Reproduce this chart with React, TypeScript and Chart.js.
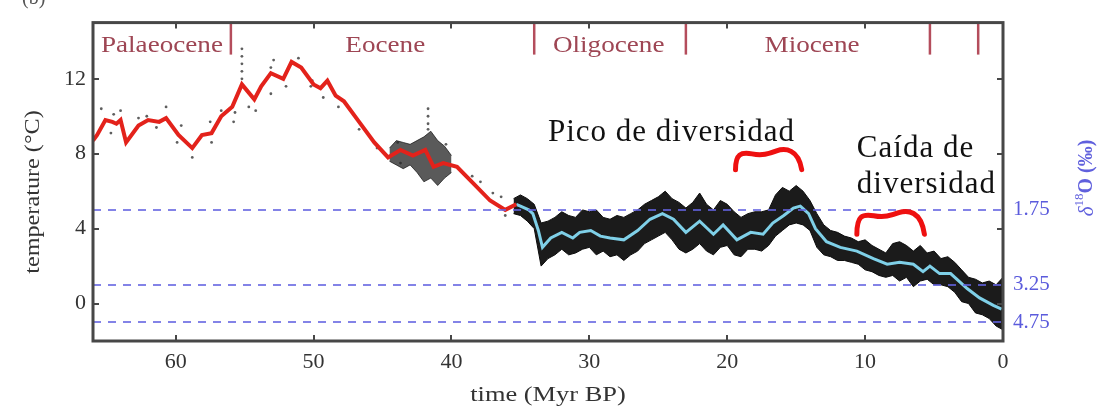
import React, { useEffect, useRef } from 'react';
import { Chart, registerables } from 'chart.js';
Chart.register(...registerables);

// ---------- data ----------
const redTime = [66.0, 65.7, 65.1, 64.6, 64.3, 64.0, 63.6, 62.7, 62.0, 61.2, 60.7, 59.8, 58.8, 58.1, 57.4, 56.7, 55.9, 55.2, 54.3, 53.8, 53.1, 52.2, 51.6, 50.9, 50.0, 49.5, 49.0, 48.4, 47.8, 46.7, 45.6, 44.6, 43.7, 42.8, 41.9, 41.3, 40.6, 39.6, 38.4, 37.2, 36.1, 35.3];
const redTemp = [8.7, 9.0, 9.8, 9.7, 9.6, 9.8, 8.6, 9.5, 9.8, 9.7, 9.9, 9.0, 8.3, 9.0, 9.1, 10.0, 10.5, 11.7, 10.9, 11.6, 12.3, 12.0, 12.9, 12.6, 11.7, 11.5, 11.9, 11.1, 10.8, 9.7, 8.6, 7.8, 8.2, 7.9, 8.2, 7.3, 7.5, 7.3, 6.4, 5.5, 5.0, 5.3];

const cyanTime = [35.3, 35.0, 34.4, 34.1, 33.7, 33.4, 32.8, 32.0, 31.2, 30.7, 29.9, 29.2, 28.5, 27.5, 26.5, 25.6, 24.7, 23.9, 23.0, 22.0, 21.0, 20.3, 19.3, 18.3, 17.4, 16.7, 15.9, 15.2, 14.7, 14.1, 13.6, 12.8, 11.8, 10.6, 9.4, 8.4, 7.5, 6.5, 5.8, 5.3, 4.6, 3.8, 2.6, 1.7, 0.7, 0.1];
const cyanTemp = [5.3, 5.2, 5.0, 4.8, 3.9, 3.0, 3.5, 3.8, 3.5, 3.8, 3.9, 3.6, 3.5, 3.4, 3.9, 4.5, 4.8, 4.5, 3.8, 4.4, 3.7, 4.2, 3.4, 3.8, 3.7, 4.3, 4.7, 5.1, 5.2, 4.8, 4.0, 3.3, 3.0, 2.8, 2.4, 2.1, 2.2, 2.1, 1.7, 2.0, 1.6, 1.6, 0.8, 0.3, -0.1, -0.3];

// dense scatter envelope, Oligocene to present
const bandTime = [35.5, 35.0, 34.5, 34.0, 33.5, 33.0, 32.5, 32.0, 31.5, 31.0, 30.5, 30.0, 29.5, 29.0, 28.5, 28.0, 27.5, 27.0, 26.5, 26.0, 25.5, 25.0, 24.5, 24.0, 23.5, 23.0, 22.5, 22.0, 21.5, 21.0, 20.5, 20.0, 19.5, 19.0, 18.5, 18.0, 17.5, 17.0, 16.5, 16.0, 15.5, 15.0, 14.5, 14.0, 13.5, 13.0, 12.5, 12.0, 11.5, 11.0, 10.5, 10.0, 9.5, 9.0, 8.5, 8.0, 7.5, 7.0, 6.5, 6.0, 5.5, 5.0, 4.5, 4.0, 3.5, 3.0, 2.5, 2.0, 1.5, 1.0, 0.5, 0.0];
const bandHigh = [5.6, 5.8, 5.6, 5.3, 4.3, 4.4, 4.6, 4.9, 4.7, 4.6, 5.0, 4.9, 5.0, 4.6, 4.5, 4.7, 4.6, 4.8, 5.0, 5.3, 5.5, 5.7, 6.0, 5.6, 5.4, 5.1, 5.4, 5.9, 5.3, 5.0, 5.5, 5.3, 4.9, 4.6, 4.8, 4.9, 4.9, 5.0, 5.8, 6.2, 6.0, 6.3, 6.0, 5.5, 4.8, 4.2, 3.9, 3.8, 3.6, 3.5, 3.3, 3.4, 3.1, 2.9, 2.7, 3.2, 3.3, 3.1, 2.8, 3.1, 2.7, 2.8, 2.4, 2.5, 2.2, 1.8, 1.4, 1.3, 1.1, 1.2, 1.0, 1.4];
const bandLow = [4.8, 4.7, 4.4, 4.0, 2.0, 2.4, 2.6, 2.9, 2.6, 2.7, 2.9, 3.0, 2.6, 2.8, 2.5, 2.6, 2.3, 2.6, 2.8, 3.2, 3.4, 3.6, 3.8, 3.4, 2.9, 2.7, 2.9, 3.2, 2.8, 2.6, 3.0, 3.1, 2.6, 2.5, 2.9, 2.9, 2.8, 3.1, 3.6, 3.9, 4.2, 4.3, 4.2, 3.9, 3.0, 2.6, 2.5, 2.3, 2.3, 2.2, 2.1, 1.8, 1.7, 1.5, 1.4, 1.5, 1.2, 1.4, 0.9, 1.2, 1.3, 1.0, 1.0, 0.9, 0.6, 0.1, 0.0, -0.5, -0.6, -0.8, -1.2, -1.4];

// dense scatter envelope, middle Eocene
const band2Time = [44.5, 44.0, 43.5, 43.0, 42.5, 42.0, 41.5, 41.0, 40.5, 40.0];
const band2High = [8.3, 8.7, 8.6, 8.5, 8.7, 8.9, 9.2, 8.7, 8.4, 7.9];
const band2Low = [7.6, 7.4, 7.2, 7.4, 7.0, 6.5, 6.7, 6.3, 6.7, 7.0];

// sparse raw points around the red curve
const dotTime = [65.4, 64.5, 64.0, 64.7, 62.7, 62.1, 60.7, 61.4, 59.6, 59.9, 58.8, 58.3, 57.5, 57.4, 56.7, 55.8, 55.7, 55.2, 55.2, 55.2, 55.2, 55.2, 54.7, 54.2, 53.1, 52.9, 53.1, 52.0, 51.1, 50.1, 50.2, 49.3, 48.2, 46.7, 45.4, 43.9, 43.7, 41.7, 41.7, 41.7, 41.7, 40.4, 38.5, 37.9, 36.4, 36.1, 39.2, 37.0];
const dotTemp = [10.4, 10.1, 10.3, 9.1, 9.9, 10.0, 10.5, 9.4, 9.5, 8.6, 7.8, 8.8, 9.7, 8.6, 10.3, 9.7, 10.2, 13.6, 13.2, 12.8, 12.4, 12.0, 10.5, 10.3, 12.6, 13.0, 11.2, 11.6, 13.1, 11.9, 11.6, 11.0, 10.5, 9.3, 8.3, 8.6, 7.5, 10.4, 10.0, 9.6, 9.3, 8.5, 6.8, 6.5, 5.7, 4.7, 7.0, 5.9];

const xTicks = [0, 10, 20, 30, 40, 50, 60];
const yTicks = [0, 4, 8, 12];
const d18OLevels = [5, 1, -1];
const d18OLabels = ['1.75', '3.25', '4.75'];

const epochNames = ['Palaeocene', 'Eocene', 'Oligocene', 'Miocene'];
const epochCenters = [61.0, 44.8, 28.6, 13.85];
const epochBounds = [56, 34, 23, 5.3, 1.8];

const noteLines = ['Pico de diversidad', 'Caída de', 'diversidad'];
const noteTime = [33.0, 10.6, 10.6];
const noteTemp = [8.7, 7.85, 5.9];

const braceStart = [19.4, 10.6];
const braceEnd = [14.6, 5.7];
const braceTop = [8.15, 4.85];
const braceFoot = [7.15, 3.7];

// ---------- drawing helpers ----------
const SERIF = "'Liberation Serif', 'Times New Roman', serif";

function stretchText(ctx: CanvasRenderingContext2D, text: string, x: number, y: number, align: CanvasTextAlign, sx: number) {
  ctx.save();
  ctx.translate(x, y);
  ctx.scale(sx, 1);
  ctx.textAlign = align;
  ctx.fillText(text, 0, 0);
  ctx.restore();
}

const decor = {
  id: 'decor',
  afterDatasetsDraw(chart: any) {
    const { ctx, chartArea: a, scales } = chart;
    const xs = scales.x, ys = scales.y;
    ctx.save();

    // reference dashed levels
    ctx.strokeStyle = 'rgba(100,100,225,0.8)';
    ctx.lineWidth = 2;
    ctx.setLineDash([8, 7]);
    d18OLevels.forEach((v) => {
      const y = Math.round(ys.getPixelForValue(v));
      ctx.beginPath();
      ctx.moveTo(a.left, y);
      ctx.lineTo(a.right, y);
      ctx.stroke();
    });
    ctx.setLineDash([]);

    // epoch boundary marks
    ctx.strokeStyle = '#b44d5c';
    ctx.lineWidth = 2.5;
    epochBounds.forEach((t) => {
      const x = xs.getPixelForValue(t);
      ctx.beginPath();
      ctx.moveTo(x, a.top);
      ctx.lineTo(x, a.top + 32);
      ctx.stroke();
    });
    ctx.fillStyle = '#9e4654';
    ctx.font = `23px ${SERIF}`;
    ctx.textBaseline = 'middle';
    epochNames.forEach((n, i) => {
      stretchText(ctx, n, xs.getPixelForValue(epochCenters[i]), a.top + 23, 'center', 1.18);
    });

    // frame
    ctx.strokeStyle = '#474747';
    ctx.lineWidth = 3;
    ctx.strokeRect(a.left, a.top, a.right - a.left, a.bottom - a.top);
    ctx.lineWidth = 2;
    xTicks.forEach((t) => {
      const x = Math.round(xs.getPixelForValue(t));
      ctx.beginPath();
      ctx.moveTo(x, a.bottom); ctx.lineTo(x, a.bottom - 6);
      ctx.moveTo(x, a.top); ctx.lineTo(x, a.top + 6);
      ctx.stroke();
    });
    yTicks.forEach((v) => {
      const y = Math.round(ys.getPixelForValue(v));
      ctx.beginPath();
      ctx.moveTo(a.left, y); ctx.lineTo(a.left + 6, y);
      ctx.moveTo(a.right, y); ctx.lineTo(a.right - 6, y);
      ctx.stroke();
    });

    // axis titles
    ctx.fillStyle = '#333';
    ctx.font = `22px ${SERIF}`;
    ctx.textBaseline = 'middle';
    stretchText(ctx, 'time (Myr BP)', (a.left + a.right) / 2, 395, 'center', 1.2);
    ctx.save();
    ctx.translate(33, 192);
    ctx.rotate(-Math.PI / 2);
    stretchText(ctx, 'temperature (°C)', 0, 0, 'center', 1.1);
    ctx.restore();

    // right title δ18O (‰)
    ctx.save();
    ctx.translate(1087, 178);
    ctx.rotate(-Math.PI / 2);
    ctx.fillStyle = '#6060dd';
    ctx.textBaseline = 'middle';
    ctx.textAlign = 'left';
    ctx.font = `italic 21px ${SERIF}`;
    const w1 = ctx.measureText('δ').width;
    ctx.font = `13px ${SERIF}`;
    const w2 = ctx.measureText('18').width;
    ctx.font = `bold 20px ${SERIF}`;
    const w3 = ctx.measureText('O (‰)').width;
    const x0 = -(w1 + w2 + w3) / 2;
    ctx.font = `italic 21px ${SERIF}`;
    ctx.fillText('δ', x0, 0);
    ctx.font = `13px ${SERIF}`;
    ctx.fillText('18', x0 + w1, -7);
    ctx.font = `bold 20px ${SERIF}`;
    ctx.fillText('O (‰)', x0 + w1 + w2, 0);
    ctx.restore();

    // partial panel label
    ctx.fillStyle = '#555';
    ctx.font = `20px ${SERIF}`;
    ctx.textBaseline = 'alphabetic';
    ctx.textAlign = 'left';
    ctx.fillText('(b)', 22, 4);

    // annotations
    ctx.fillStyle = '#111';
    ctx.font = `31px ${SERIF}`;
    ctx.textBaseline = 'alphabetic';
    ctx.textAlign = 'left';
    (ctx as any).letterSpacing = '1px';
    noteLines.forEach((s, i) => {
      ctx.fillText(s, xs.getPixelForValue(noteTime[i]), ys.getPixelForValue(noteTemp[i]));
    });
    (ctx as any).letterSpacing = '0px';

    // red braces
    ctx.strokeStyle = '#ee1010';
    ctx.lineWidth = 5;
    ctx.lineCap = 'round';
    ctx.lineJoin = 'round';
    braceStart.forEach((t0, i) => {
      const xa = xs.getPixelForValue(t0);
      const xb = xs.getPixelForValue(braceEnd[i]);
      const w = xb - xa;
      const yt = ys.getPixelForValue(braceTop[i]);
      const yf = ys.getPixelForValue(braceFoot[i]);
      ctx.beginPath();
      ctx.moveTo(xa, yf);
      ctx.bezierCurveTo(xa, yt + 3, xa + 0.08 * w, yt + 1, xa + 0.25 * w, yt + 3);
      ctx.bezierCurveTo(xa + 0.4 * w, yt + 5, xa + 0.5 * w, yt + 3, xa + 0.62 * w, yt);
      ctx.bezierCurveTo(xa + 0.75 * w, yt - 3, xa + 0.95 * w, yt - 2, xb, yf);
      ctx.stroke();
    });

    ctx.restore();
  },
};

const pts = (xsArr: number[], ysArr: number[]) => xsArr.map((x, i) => ({ x, y: ysArr[i] }));

export default function App() {
  const ref = useRef<HTMLCanvasElement | null>(null);
  useEffect(() => {
    if (!ref.current) return;
    const tickFont = { family: SERIF, size: 22 };
    const chart = new Chart(ref.current, {
      type: 'line',
      data: {
        datasets: [
          { data: pts(bandTime, bandHigh), borderColor: '#0d0d0d', backgroundColor: 'rgba(10,10,10,0.93)', borderWidth: 1, pointRadius: 0, fill: '+1', order: 3 },
          { data: pts(bandTime, bandLow), borderColor: '#0d0d0d', borderWidth: 1, pointRadius: 0, fill: false, order: 3 },
          { data: pts(band2Time, band2High), borderColor: 'rgba(20,20,20,0.7)', backgroundColor: 'rgba(20,20,20,0.7)', borderWidth: 1, pointRadius: 0, fill: '+1', order: 3 },
          { data: pts(band2Time, band2Low), borderColor: 'rgba(20,20,20,0.7)', borderWidth: 1, pointRadius: 0, fill: false, order: 3 },
          { type: 'scatter', data: pts(dotTime, dotTemp), backgroundColor: 'rgba(40,40,40,0.75)', borderWidth: 0, pointRadius: 1.4, order: 2 },
          { data: pts(redTime, redTemp), borderColor: '#e3221b', borderWidth: 4, pointRadius: 0, fill: false, tension: 0, order: 0 },
          { data: pts(cyanTime, cyanTemp), borderColor: '#7fd0e8', borderWidth: 3, pointRadius: 0, fill: false, tension: 0, order: 0 },
        ] as any,
      },
      options: {
        responsive: false,
        animation: false,
        events: [],
        layout: { padding: { top: 13, left: 0, right: 0, bottom: 0 } },
        plugins: { legend: { display: false }, tooltip: { enabled: false } },
        scales: {
          x: {
            type: 'linear', reverse: true, min: 0, max: 66,
            grid: { display: false, drawTicks: false }, border: { display: false },
            ticks: { font: tickFont, color: '#333', padding: 8, maxRotation: 0 },
            afterBuildTicks: (s: any) => { s.ticks = xTicks.map((v) => ({ value: v })); },
            afterFit: (s: any) => { s.height = 67; },
          },
          y: {
            type: 'linear', position: 'left', min: -2, max: 15,
            grid: { display: false, drawTicks: false }, border: { display: false },
            ticks: { font: tickFont, color: '#333', padding: 7 },
            afterBuildTicks: (s: any) => { s.ticks = yTicks.map((v) => ({ value: v })); },
            afterFit: (s: any) => { s.width = 93; },
          },
          y2: {
            type: 'linear', position: 'right', min: -2, max: 15,
            grid: { display: false, drawTicks: false }, border: { display: false },
            ticks: {
              font: { family: SERIF, size: 21 }, color: '#5b5bdc', padding: 10,
              callback: (v: any) => d18OLabels[d18OLevels.indexOf(Number(v))] ?? '',
            },
            afterBuildTicks: (s: any) => { s.ticks = d18OLevels.map((v) => ({ value: v })); },
            afterFit: (s: any) => { s.width = 96; },
          },
        },
      } as any,
      plugins: [decor],
    });
    return () => chart.destroy();
  }, []);
  return (
    <div style={{ position: 'fixed', left: 0, top: 0, width: 1099, height: 408, background: '#fff' }}>
      <canvas ref={ref} width={1099} height={408} style={{ display: 'block' }} />
    </div>
  );
}
